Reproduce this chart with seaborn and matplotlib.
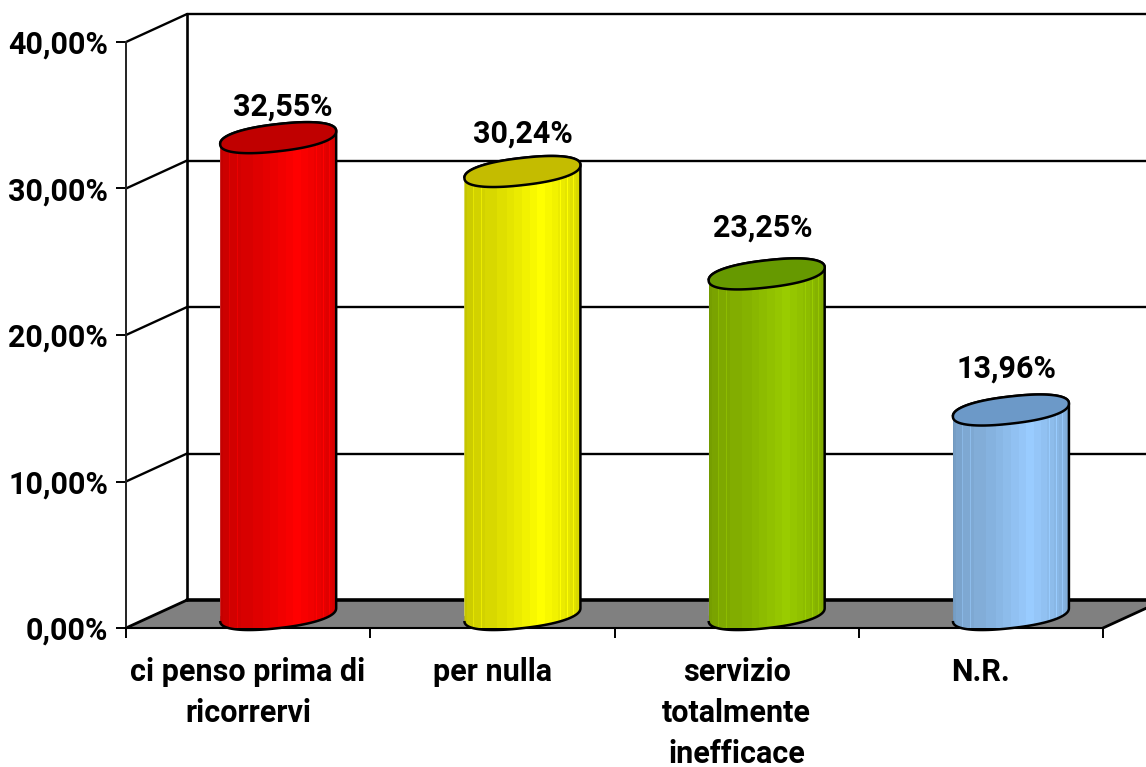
import numpy as np
import pandas as pd
import matplotlib
matplotlib.use("Agg")
import matplotlib.pyplot as plt
from matplotlib.colors import to_rgb
from matplotlib.patches import PathPatch, Polygon
from matplotlib.path import Path
import seaborn as sns

# data
categorie = ["ci penso prima di\nricorrervi", "per nulla", "servizio\ntotalmente\ninefficace", "N.R."]
valori = [32.55, 30.24, 23.25, 13.96]
etichette = ["32,55%", "30,24%", "23,25%", "13,96%"]
tick_y = [0, 10, 20, 30, 40]
tick_y_label = ["0,00%", "10,00%", "20,00%", "30,00%", "40,00%"]
colori = ["#FF0000", "#FFFF00", "#99CC00", "#99CCFF"]
colori_top = ["#C00000", "#C4BC00", "#669900", "#6C99C8"]

# label nudges, in chart units
etichette_dx = [0.02, 0.0, -0.017, -0.017]
etichette_dy = [2.1, 2.6, 3.15, 2.8]

# fake 3d
PROF_X = 0.25
PROF_Y = 1.91
LARGH = 0.475
SHIFT = 0.123
BASE = 0.92
B1 = 0.44
B2 = 0.93
TESTO = 22

sns.set_theme(style="white")
plt.rcParams["font.family"] = ["Roboto", "Liberation Sans", "DejaVu Sans"]
plt.rcParams["font.weight"] = "bold"

fig = plt.figure(figsize=(11.46, 7.67), dpi=100)
ax = fig.add_axes([126 / 1146, (767 - 628) / 767, 977 / 1146, 586 / 767])

df = pd.DataFrame({"categoria": categorie, "valore": valori})
sns.barplot(data=df, x="categoria", y="valore", hue="categoria", palette=colori,
            width=LARGH, saturation=1, legend=False, dodge=False, ax=ax, zorder=3)

ax.set_xlim(-0.5, 3.5)
ax.set_ylim(0, 40)

# floor
ax.add_patch(Polygon([(-0.5, 0), (-0.5 + PROF_X, PROF_Y), (3.5 + PROF_X, PROF_Y), (3.5, 0)],
                     closed=True, facecolor="#808080", edgecolor="none", clip_on=False, zorder=1))
ax.plot([-0.5, -0.5 + PROF_X], [0, PROF_Y], color="black", lw=2, clip_on=False, zorder=2)
ax.plot([3.5, 3.5 + PROF_X], [0, PROF_Y], color="black", lw=2, clip_on=False, zorder=2)

# back wall and side wall lines
ax.plot([-0.5 + PROF_X] * 2, [PROF_Y, 40 + PROF_Y], color="black", lw=1.9, clip_on=False, zorder=2)
for t in tick_y:
    ax.plot([-0.5 + PROF_X, 3.5 + PROF_X], [t + PROF_Y] * 2, color="black",
            lw=2.6 if t == 0 else 1.7, clip_on=False, zorder=2)
    if t > 0:
        ax.plot([-0.5, -0.5 + PROF_X], [t, t + PROF_Y], color="black", lw=1.7, clip_on=False, zorder=2)

# shading across a cylinder
xs = np.linspace(0, 1, 116)
ombra = np.interp(xs, [0, 0.03, 0.35, 0.66, 0.85, 1], [0.76, 0.8, 0.88, 1, 0.92, 0.84])
ombra = np.round(ombra * 40) / 40
for s in [0.08, 0.15, 0.63, 0.68, 0.83, 0.89, 0.94]:
    ombra[int(s * 115)] = min(1.0, ombra[int(s * 115)] + 0.1)


def spigolo(t):
    # squarer than a true ellipse, the original cylinders are blunt at the ends
    return np.sign(np.cos(t)) * np.abs(np.cos(t)) ** 0.88, np.sign(np.sin(t)) * np.abs(np.sin(t)) ** 0.88


tt_low = np.linspace(np.pi, 2 * np.pi, 60)
tt_up = np.linspace(0, np.pi, 60)
tt_all = np.linspace(0, 2 * np.pi, 120)
for i, (v, col, top, bar) in enumerate(zip(valori, colori, colori_top, ax.patches)):
    cx = i + SHIFT
    a = LARGH / 2
    h = BASE + v
    bar.set_x(cx - a)
    bar.set_y(BASE)
    c_low, s_low = spigolo(tt_low)
    c_up, s_up = spigolo(tt_up)
    c_all, s_all = spigolo(tt_all)
    bx = np.r_[cx + a * c_low, cx + a * c_up]
    by = np.r_[BASE + B1 * c_low + B2 * s_low, h + B1 * c_up + B2 * s_up]
    corpo = PathPatch(Path(np.c_[bx, by], closed=False), facecolor="none", edgecolor="black",
                      lw=1.8, clip_on=False, zorder=5, transform=ax.transData)
    ax.add_patch(corpo)
    bar.set_clip_path(corpo)
    img = np.array(to_rgb(col))[None, None, :] * ombra[None, :, None]
    im = ax.imshow(img, extent=[cx - a, cx + a, 0, h + B2 + 1], aspect="auto", zorder=4, interpolation="nearest")
    im.set_clip_path(corpo)
    ax.fill(cx + a * c_all, h + B1 * c_all + B2 * s_all,
            facecolor=top, edgecolor="black", lw=1.8, clip_on=False, zorder=6)
    ax.text(cx + etichette_dx[i], h + etichette_dy[i], etichette[i], ha="center", va="center",
            fontsize=TESTO, fontweight="bold", color="black", zorder=7)

ax.set_xlim(-0.5, 3.5)
ax.set_ylim(0, 40)

# axes
sns.despine(ax=ax, top=True, right=True)
ax.patch.set_alpha(0)
ax.spines["left"].set_color("#222222")
ax.spines["left"].set_linewidth(1.4)
ax.spines["bottom"].set_color("black")
ax.spines["bottom"].set_linewidth(1.5)
ax.spines["left"].set_zorder(2)
ax.spines["bottom"].set_zorder(2)
ax.set_xlabel("")
ax.set_ylabel("")
ax.set_yticks(tick_y, tick_y_label)
ax.set_xticks(range(len(categorie)), categorie)
ax.set_xticks(np.arange(-0.5, 4, 1), minor=True)
ax.tick_params(axis="y", length=7, width=1.4, color="black", pad=6, labelsize=TESTO, labelcolor="black", left=True)
ax.tick_params(axis="x", which="major", length=0, pad=21, labelsize=TESTO, labelcolor="black")
ax.tick_params(axis="x", which="minor", length=7, width=1.4, color="black", bottom=True)
for lab in ax.get_xticklabels():
    lab.set_linespacing(1.46)

fig.savefig("out.png", dpi=100)
